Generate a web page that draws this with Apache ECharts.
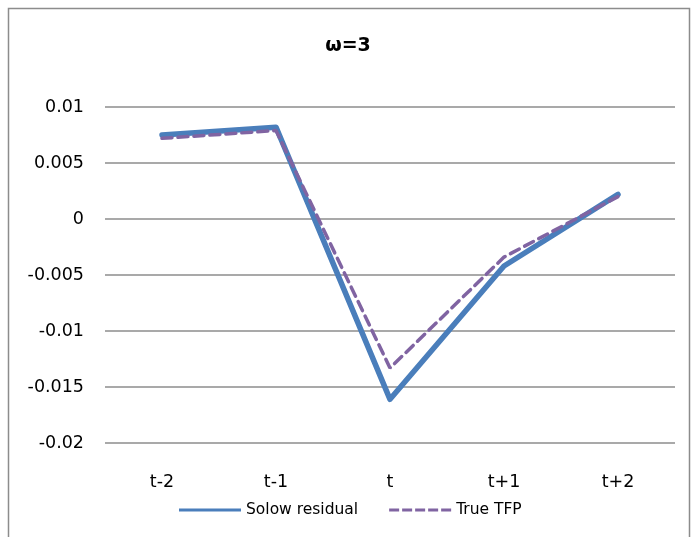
<!DOCTYPE html>
<html><head><meta charset="utf-8">
<script src="https://cdn.jsdelivr.net/npm/echarts@6/dist/echarts.min.js"></script>
<style>html,body{margin:0;padding:0;background:#fff}#c{width:696px;height:537px}</style>
</head><body><div id="c"></div>
<script>
const categories = ['t-2','t-1','t','t+1','t+2'];
const solowResidual = [0.0075, 0.0082, -0.0161, -0.0042, 0.0022];
const trueTFP = [0.0072, 0.0079, -0.0133, -0.0034, 0.0020];
const yTicks = [-0.02, -0.015, -0.01, -0.005, 0, 0.005, 0.01];

const chart = echarts.init(document.getElementById('c'));
const font = '"DejaVu Sans", sans-serif';
chart.setOption({
  animation: false,
  graphic: [{type:'rect', shape:{x:8.5,y:8.5,width:681,height:540}, style:{fill:'none', stroke:'#8c8c8c', lineWidth:1.5}, silent:true}],
  title: {text:'ω=3', left:'center', top:32, textStyle:{fontFamily:font, fontWeight:'bold', fontSize:19, color:'#000'}},
  grid: {left:105, right:21, top:107, bottom:94, containLabel:false},
  xAxis: {type:'category', data:categories, boundaryGap:true,
    axisLine:{show:false}, axisTick:{show:false},
    axisLabel:{fontFamily:font, fontSize:17.5, color:'#000', margin:30}},
  yAxis: {type:'value', min:-0.02, max:0.01, interval:0.005,
    axisLine:{show:false}, axisTick:{show:false},
    splitLine:{lineStyle:{color:'#8c8c8c', width:1.5}},
    axisLabel:{fontFamily:font, fontSize:17.5, color:'#000', margin:21,
      formatter: v => { const m = yTicks.find(t => Math.abs(t - v) < 1e-9); return m === undefined ? '' : String(m); }}},
  legend: {top:497, left:174, itemWidth:62, itemHeight:10, itemGap:31,
    textStyle:{fontFamily:font, fontSize:15.5, color:'#000'},
    data:[{name:'Solow residual', icon:'path://M0,0H62V3H0Z'}, {name:'True TFP', icon:'path://M0,0H10V3H0ZM13,0H23V3H13ZM26,0H36V3H26ZM39,0H49V3H39ZM52,0H62V3H52Z'}]},
  series: [
    {name:'Solow residual', type:'line', data:solowResidual, symbol:'none',
      lineStyle:{color:'#4a7ebb', width:5.5, join:'round', cap:'round'}, itemStyle:{color:'#4a7ebb'}},
    {name:'True TFP', type:'line', data:trueTFP, symbol:'none',
      lineStyle:{color:'#8064a2', width:3.5, type:[10,6], cap:'round'}, itemStyle:{color:'#8064a2'}}
  ]
});
</script></body></html>
